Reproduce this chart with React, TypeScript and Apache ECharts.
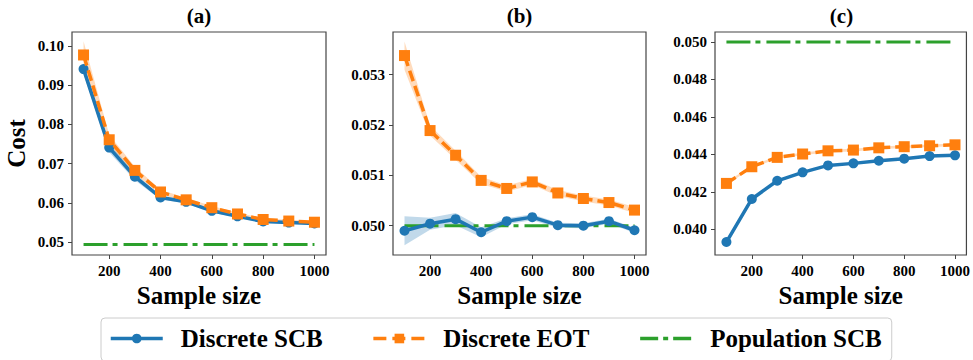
import React, { useEffect, useRef } from 'react';
import * as echarts from 'echarts';

const FONT = "'Liberation Serif', 'Times New Roman', Times, serif";

// ---- data ----
const sampleSizes = [100, 200, 300, 400, 500, 600, 700, 800, 900, 1000];
const xTicks = [200, 400, 600, 800, 1000];
const panelTitles = ['(a)', '(b)', '(c)'];
const seriesNames = ['Discrete SCB', 'Discrete EOT', 'Population SCB'];

const scbA = [0.0941, 0.0741, 0.0667, 0.0614, 0.0603, 0.058, 0.0566, 0.0553, 0.055, 0.0548];
const eotA = [0.0977, 0.0761, 0.0683, 0.0628, 0.0608, 0.0588, 0.0572, 0.0558, 0.0554, 0.0551];
const popA = 0.0494;
const scbBandA = [0.0012, 0.0012, 0.0009, 0.0005, 0.0004, 0.0004, 0.0003, 0.0003, 0.0003, 0.0003];
const eotBandA = [0.0035, 0.0013, 0.0009, 0.0006, 0.0005, 0.0004, 0.0004, 0.0003, 0.0003, 0.0003];
const yTicksA = [0.05, 0.06, 0.07, 0.08, 0.09, 0.1];

const scbB = [0.0499, 0.05004, 0.05013, 0.04987, 0.05009, 0.05017, 0.05001, 0.05, 0.05009, 0.04991];
const eotB = [0.05338, 0.05189, 0.0514, 0.0509, 0.05074, 0.05087, 0.05065, 0.05054, 0.05046, 0.05031];
const popB = 0.05;
const scbBandB = [0.00029, 0.00012, 0.00012, 0.0001, 0.00006, 0.00006, 0.00005, 0.00005, 0.00005, 0.00005];
const eotBandB = [0.00028, 0.0001, 0.00009, 0.00007, 0.00006, 0.00006, 0.00006, 0.00006, 0.00006, 0.00006];
const yTicksB = [0.05, 0.051, 0.052, 0.053];

const scbC = [0.03932, 0.04162, 0.04259, 0.04304, 0.04341, 0.04352, 0.04366, 0.04377, 0.04391, 0.04395];
const eotC = [0.04245, 0.04334, 0.04384, 0.04402, 0.04419, 0.04423, 0.04435, 0.04441, 0.04446, 0.04451];
const popC = 0.05;
const scbBandC = [0.00004, 0.00004, 0.00004, 0.00004, 0.00004, 0.00004, 0.00004, 0.00004, 0.00004, 0.00004];
const eotBandC = [0.00008, 0.00007, 0.00007, 0.00007, 0.00007, 0.00007, 0.00007, 0.00007, 0.00007, 0.00007];
const yTicksC = [0.04, 0.042, 0.044, 0.046, 0.048, 0.05];

const BLUE = '#1f77b4';
const ORANGE = '#ff7f0e';
const GREEN = '#2ca02c';

type Panel = {
  scb: number[]; eot: number[]; pop: number; scbBand: number[]; eotBand: number[];
  yTicks: number[]; yMin: number; yMax: number; decimals: number;
  left: number; width: number;
};

const panels: Panel[] = [
  { scb: scbA, eot: eotA, pop: popA, scbBand: scbBandA, eotBand: eotBandA, yTicks: yTicksA, yMin: 0.04675, yMax: 0.10355, decimals: 2, left: 72, width: 254 },
  { scb: scbB, eot: eotB, pop: popB, scbBand: scbBandB, eotBand: eotBandB, yTicks: yTicksB, yMin: 0.049418, yMax: 0.053848, decimals: 3, left: 393, width: 253 },
  { scb: scbC, eot: eotC, pop: popC, scbBand: scbBandC, eotBand: eotBandC, yTicks: yTicksC, yMin: 0.038628, yMax: 0.050534, decimals: 3, left: 715, width: 253 },
];

const GRID_TOP = 32;
const GRID_H = 223;

function bandSeries(values: number[], half: number[], color: string, idx: number) {
  const rows = sampleSizes.map((x, i) => [x, values[i] - half[i], values[i] + half[i]]);
  return {
    type: 'custom',
    xAxisIndex: idx, yAxisIndex: idx,
    data: rows,
    encode: { x: 0, y: [1, 2] },
    silent: true,
    clip: true,
    z: 1,
    renderItem: (params: any, api: any) => {
      if (params.dataIndex !== 0) return null;
      const upper = rows.map((r) => api.coord([r[0], r[2]]));
      const lower = rows.map((r) => api.coord([r[0], r[1]])).reverse();
      return {
        type: 'polygon',
        shape: { points: upper.concat(lower) },
        style: { fill: color, stroke: 'none' },
      };
    },
  };
}

export default function App() {
  const ref = useRef<HTMLDivElement>(null);
  useEffect(() => {
    if (!ref.current) return;
    const chart = echarts.init(ref.current, undefined, { renderer: 'svg' });
    const labelStyle = { fontFamily: FONT, fontWeight: 'bold' as const, fontSize: 15, color: '#000' };

    const grid = panels.map((p) => ({
      left: p.left, top: GRID_TOP, width: p.width, height: GRID_H,
      show: true, borderColor: '#444', borderWidth: 1.2, backgroundColor: 'transparent',
    }));

    const xAxis = panels.map((p, i) => ({
      type: 'value', gridIndex: i, min: 55, max: 1045,
      name: 'Sample size', nameLocation: 'middle', nameGap: 19,
      nameTextStyle: { fontFamily: FONT, fontWeight: 'bold', fontSize: 25, color: '#000' },
      axisLine: { show: false },
      axisTick: { show: true, inside: false, length: 4, customValues: xTicks, lineStyle: { color: '#444', width: 1 } },
      axisLabel: { ...labelStyle, margin: 8, customValues: xTicks, formatter: (v: number) => String(Math.round(v)) },
      splitLine: { show: false },
    }));

    const yAxis = panels.map((p, i) => ({
      type: 'value', gridIndex: i, min: p.yMin, max: p.yMax,
      name: i === 0 ? 'Cost' : '', nameLocation: 'middle', nameGap: 43, nameRotate: 90,
      nameTextStyle: { fontFamily: FONT, fontWeight: 'bold', fontSize: 25, color: '#000' },
      axisLine: { show: false },
      axisTick: { show: true, inside: false, length: 4, customValues: p.yTicks, lineStyle: { color: '#444', width: 1 } },
      axisLabel: { ...labelStyle, margin: 8, customValues: p.yTicks, formatter: (v: number) => v.toFixed(p.decimals) },
      splitLine: { show: false },
    }));

    const series: any[] = [];
    panels.forEach((p, i) => {
      series.push(bandSeries(p.scb, p.scbBand, 'rgba(31,119,180,0.28)', i));
      series.push(bandSeries(p.eot, p.eotBand, 'rgba(255,127,14,0.28)', i));
      series.push({
        type: 'line', name: seriesNames[2], xAxisIndex: i, yAxisIndex: i,
        data: [[sampleSizes[0], p.pop], [sampleSizes[sampleSizes.length - 1], p.pop]],
        symbol: 'none', lineStyle: { color: GREEN, width: 3, type: [24, 5, 5, 6] }, itemStyle: { color: GREEN }, z: 2,
      });
      series.push({
        type: 'line', name: seriesNames[0], xAxisIndex: i, yAxisIndex: i,
        data: sampleSizes.map((x, k) => [x, p.scb[k]]),
        symbol: 'circle', symbolSize: 10, lineStyle: { color: BLUE, width: 3.5 }, itemStyle: { color: BLUE }, z: 3,
      });
      series.push({
        type: 'line', name: seriesNames[1], xAxisIndex: i, yAxisIndex: i,
        data: sampleSizes.map((x, k) => [x, p.eot[k]]),
        symbol: 'rect', symbolSize: 11, lineStyle: { color: ORANGE, width: 3.5, type: [11, 5] }, itemStyle: { color: ORANGE }, z: 4,
      });
    });

    const titleCenters = panels.map((p) => p.left + p.width / 2);

    chart.setOption({
      animation: false,
      backgroundColor: '#fff',
      grid,
      xAxis,
      yAxis,
      series,
      legend: {
        data: [
          { name: seriesNames[0], lineStyle: { width: 3.5 } },
          { name: seriesNames[1], lineStyle: { width: 3.5, type: [13, 6] } },
          { name: seriesNames[2], itemStyle: { opacity: 0 }, lineStyle: { width: 3.5, type: [18, 5, 5, 5] } },
        ],
        left: 101, top: 318,
        padding: [8, 10, 10, 8],
        itemWidth: 52, itemHeight: 12, itemGap: 49,
        borderColor: '#ccc', borderWidth: 1, borderRadius: 4,
        textStyle: { fontFamily: FONT, fontWeight: 'bold', fontSize: 25, color: '#000', padding: [0, 0, 0, 13] },
      },
      graphic: panelTitles.map((t, i) => ({
        type: 'text', x: titleCenters[i], y: 16,
        style: { text: t, fontFamily: FONT, fontWeight: 'bold', fontSize: 21, fill: '#000', textAlign: 'center', textVerticalAlign: 'middle' },
      })),
    });
    return () => chart.dispose();
  }, []);
  return <div ref={ref} style={{ position: 'fixed', left: 0, top: 0, width: 973, height: 360, background: '#fff' }} />;
}
